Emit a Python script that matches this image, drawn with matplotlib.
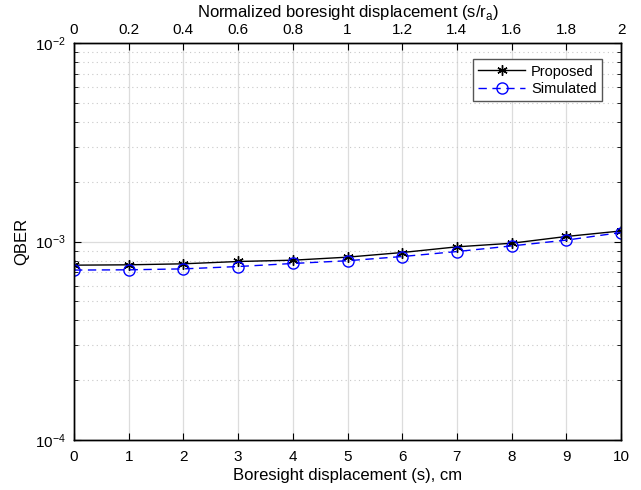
import matplotlib
matplotlib.use("Agg")
import matplotlib.pyplot as plt
import numpy as np
from matplotlib.ticker import LogLocator, NullFormatter

plt.rcParams['font.family'] = ['Liberation Sans', 'DejaVu Sans']

displacement_cm = [0, 1, 2, 3, 4, 5, 6, 7, 8, 9, 10]
qber_proposed = [7.60e-4, 7.63e-4, 7.72e-4, 7.93e-4, 8.05e-4, 8.34e-4, 8.80e-4, 9.40e-4, 9.80e-4, 1.06e-3, 1.13e-3]
qber_simulated = [7.18e-4, 7.20e-4, 7.28e-4, 7.48e-4, 7.75e-4, 8.00e-4, 8.40e-4, 8.90e-4, 9.50e-4, 1.016e-3, 1.11e-3]
top_ticks = [0, 0.2, 0.4, 0.6, 0.8, 1, 1.2, 1.4, 1.6, 1.8, 2]
top_labels = ['0', '0.2', '0.4', '0.6', '0.8', '1', '1.2', '1.4', '1.6', '1.8', '2']

fig = plt.figure(figsize=(6.41, 4.90), dpi=100)
ax = fig.add_axes([74/641, 1-440/490, (621-74)/641, (440-43)/490])

ax.plot(displacement_cm, qber_proposed, '-', color='black', marker=(6, 2, 0), markersize=7.5,
        markeredgewidth=1.0, linewidth=1.0, label='Proposed')
ax.plot(displacement_cm, qber_simulated, '--', color='blue', marker='o', markersize=8,
        markerfacecolor='none', markeredgewidth=1.0, linewidth=1.0, dashes=(6, 4), label='Simulated')

ax.set_yscale('log')
ax.set_ylim(1e-4, 1e-2)
ax.set_xlim(0, 10)
ax.set_xticks(range(0, 11))
ax.yaxis.set_minor_locator(LogLocator(base=10, subs=np.arange(2, 10), numticks=20))
ax.yaxis.set_minor_formatter(NullFormatter())

ax.grid(True, which='major', axis='x', color='#dcdcdc', linewidth=0.9)
ax.grid(True, which='major', axis='y', color='#dcdcdc', linewidth=0.9)
ax.grid(True, which='minor', axis='y', color='#c8c8c8', linestyle=(0, (1, 3)), linewidth=0.8)
ax.set_axisbelow(True)

ax.tick_params(which='both', direction='in', top=False, right=True, labelsize=11)
ax.tick_params(which='major', length=5)
ax.tick_params(which='minor', length=3)
ax.tick_params(axis='x', pad=7)
ax.tick_params(axis='y', pad=6)

ax.set_xlabel('Boresight displacement (s), cm', fontsize=12, labelpad=3)
ax.set_ylabel('QBER', fontsize=12, labelpad=4)

ax2 = ax.twiny()
ax2.set_xlim(0, 2)
ax2.set_xticks(top_ticks)
ax2.set_xticklabels(top_labels)
ax2.tick_params(direction='in', labelsize=11, length=5, pad=4)
ax2.set_xlabel(r'Normalized boresight displacement (s/r$_\mathregular{a}$)', fontsize=12, labelpad=5)

for a in (ax, ax2):
    for s in a.spines.values():
        s.set_linewidth(1.0)
        s.set_color('black')

leg = ax.legend(loc='upper right', bbox_to_anchor=(0.978, 0.977), fontsize=10.5, fancybox=False,
                framealpha=1, edgecolor='#555555', handlelength=3.2, borderpad=0.35,
                labelspacing=0.25, handletextpad=0.4)
leg.get_frame().set_linewidth(1.0)

fig.savefig('out.png', dpi=100)
